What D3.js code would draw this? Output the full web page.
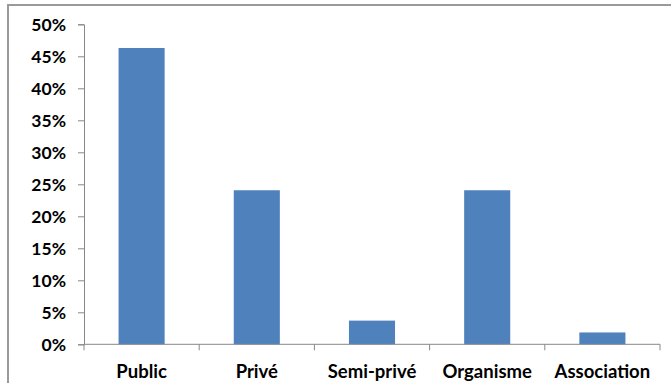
<!DOCTYPE html>
<html>
<head>
<meta charset="utf-8">
<script src="https://cdn.jsdelivr.net/npm/d3@7"></script>
<style>
  html, body { margin: 0; padding: 0; background: #fff; }
  svg { display: block; }
  text { font-family: Lato, "Open Sans", sans-serif; font-weight: bold; fill: #000; }
</style>
</head>
<body>
<svg id="chart" width="671" height="383"></svg>
<script>
// Répartition par secteur (n = 54)
const categories = ["Public", "Privé", "Semi-privé", "Organisme", "Association"];
const shares = [46.30, 24.07, 3.70, 24.07, 1.85];
const yTicks = [0, 5, 10, 15, 20, 25, 30, 35, 40, 45, 50];

const svg = d3.select("#chart");
const W = 671, H = 383;
const plot = { left: 84, right: 660, top: 24.3, bottom: 344.3 };

// Outer frame of the chart area
svg.append("rect")
  .attr("x", 8).attr("y", 5)
  .attr("width", W).attr("height", H)
  .attr("fill", "#fff")
  .attr("stroke", "#9a9a9a")
  .attr("stroke-width", 2);

const x = d3.scaleBand()
  .domain(categories)
  .range([plot.left, plot.right])
  .paddingInner(0.6)
  .paddingOuter(0.3);

const y = d3.scaleLinear()
  .domain([0, 50])
  .range([plot.bottom, plot.top]);

// Bars
svg.append("g").selectAll("rect")
  .data(categories)
  .join("rect")
  .attr("x", d => x(d))
  .attr("width", x.bandwidth())
  .attr("y", (d, i) => y(shares[i]))
  .attr("height", (d, i) => y(0) - y(shares[i]))
  .attr("fill", "#4f81bd");

// Y axis
const yAxis = svg.append("g")
  .attr("transform", `translate(${plot.left},0)`)
  .call(d3.axisLeft(y).tickValues(yTicks).tickFormat(d => d + "%").tickSize(6).tickPadding(12));
yAxis.select(".domain").attr("stroke", "#888");
yAxis.selectAll(".tick line").attr("stroke", "#888");
yAxis.selectAll(".tick text").attr("font-size", 17.5).attr("dy", "0.36em");

// X axis with ticks at category boundaries
const edges = [plot.left].concat(categories.map((c, i) => plot.left + (i + 1) * x.step()));
const xAxis = svg.append("g").attr("transform", `translate(0,${plot.bottom})`);
xAxis.append("line")
  .attr("x1", plot.left).attr("x2", plot.right)
  .attr("stroke", "#888");
xAxis.selectAll("line.tk")
  .data(edges)
  .join("line")
  .attr("class", "tk")
  .attr("x1", d => d).attr("x2", d => d)
  .attr("y1", 0).attr("y2", 6)
  .attr("stroke", "#888");
xAxis.selectAll("text")
  .data(categories)
  .join("text")
  .attr("x", d => x(d) + x.bandwidth() / 2)
  .attr("y", 27)
  .attr("dy", "0.36em")
  .attr("text-anchor", "middle")
  .attr("font-size", 18.5)
  .text(d => d);
</script>
</body>
</html>
